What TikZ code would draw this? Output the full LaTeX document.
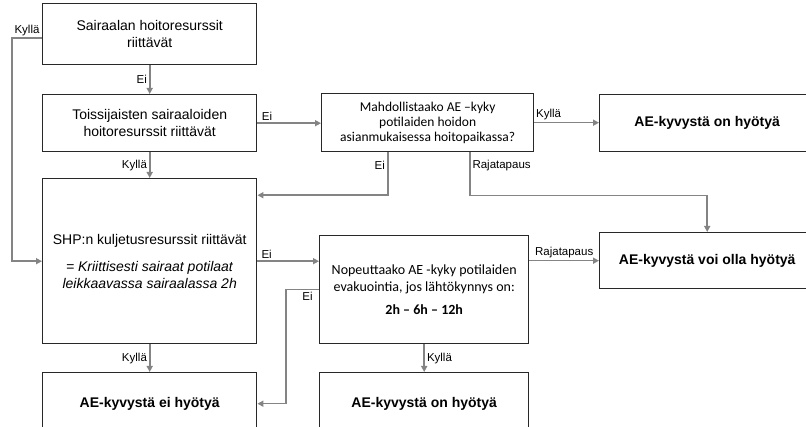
\documentclass[tikz,border=0pt]{standalone}
\usepackage{fontspec}
\setmainfont{Liberation Sans}
\newfontfamily\calibri{Carlito}
\usepackage{xcolor}
\usetikzlibrary{positioning, arrows.meta}

\definecolor{linegray}{RGB}{132,132,132}
\definecolor{boxline}{RGB}{40,40,40}

\begin{document}
\begin{tikzpicture}[
    x=1pt, y=-1pt,
    box/.style={
        rectangle,
        draw=boxline,
        line width=1.4pt,
        anchor=north west,
        minimum width=214pt,
        align=center,
        font=\fontsize{14}{17}\selectfont
    },
    arrow/.style={
        draw=linegray,
        line width=1.6pt,
        -{Triangle[length=6pt,width=6pt]}
    },
    lbl/.style={
        font=\fontsize{11.5}{13}\selectfont,
        inner sep=2pt
    }
]
\useasboundingbox (0,0) rectangle (806,427);
\clip (0,0) rectangle (806,427);

% left column
\node[box, minimum height=61pt] (sairaala) at (42,3)
    {Sairaalan hoitoresurssit\\riittävät};
\node[box, minimum height=57pt] (toissijaiset) at (42,94)
    {Toissijaisten sairaaloiden\\hoitoresurssit riittävät};
\node[box, minimum height=165pt] (kuljetus) at (42,178)
    {SHP:n kuljetusresurssit riittävät\\[10pt]
     \textit{= Kriittisesti sairaat potilaat}\\
     \textit{leikkaavassa sairaalassa 2h}};
\node[box, minimum height=62pt, font=\fontsize{14}{17}\selectfont\bfseries] (eihyoty) at (42,372)
    {AE-kyvystä ei hyötyä};

% middle column
\node[box, minimum width=212pt, minimum height=58pt,
      font=\calibri\fontsize{13.5}{15}\selectfont] (mahdollistaa) at (321,93)
    {Mahdollistaako AE –kyky\\potilaiden hoidon\\asianmukaisessa hoitopaikassa?};
\node[box, minimum width=209pt, minimum height=108pt,
      font=\calibri\fontsize{14}{17}\selectfont] (nopeuttaa) at (319,235)
    {Nopeuttaako AE -kyky potilaiden\\evakuointia, jos lähtökynnys on:\\[6pt]
     \textbf{2h – 6h – 12h}};
\node[box, minimum width=209pt, minimum height=62pt, font=\fontsize{14}{17}\selectfont\bfseries] (onhyotyala) at (319,372)
    {AE-kyvystä on hyötyä};

% right column
\node[box, minimum width=215pt, minimum height=57pt, font=\fontsize{14}{17}\selectfont\bfseries] (onhyoty) at (599,94)
    {AE-kyvystä on hyötyä};
\node[box, minimum width=215pt, minimum height=56pt, font=\fontsize{14}{17}\selectfont\bfseries] (voiolla) at (599,232)
    {AE-kyvystä voi olla hyötyä};

% connectors
\draw[arrow] (sairaala) -- node[lbl, left]{Ei} (toissijaiset);
\draw[arrow] ([yshift=-4pt]sairaala.west) -- node[lbl, above]{Kyllä} ++(-30,0) |- (kuljetus.west);
\draw[arrow] (toissijaiset) -- node[lbl, left]{Kyllä} (kuljetus);
\draw[arrow] (toissijaiset.east) -- node[lbl, above, pos=0.15]{Ei} (toissijaiset.east -| mahdollistaa.west);
\draw[arrow] (mahdollistaa.east) -- node[lbl, above, pos=0.22]{Kyllä} (mahdollistaa.east -| onhyoty.west);
\draw[arrow] ([xshift=-40pt]mahdollistaa.south) |- node[lbl, left, pos=0.15]{Ei} ([yshift=66pt]kuljetus.east);
\draw[arrow] ([xshift=42pt]mahdollistaa.south) -- node[lbl, right, pos=0.3]{Rajatapaus} ++(0,43) -| (voiolla.north);
\draw[arrow] (kuljetus.east) -- node[lbl, above, pos=0.15]{Ei} (kuljetus.east -| nopeuttaa.west);
\draw[arrow] (nopeuttaa.west) -- node[lbl, below, pos=0.35]{Ei} ++(-33,0) |- (eihyoty.east);
\draw[arrow] (voiolla.west -| nopeuttaa.east) -- node[lbl, above]{Rajatapaus} (voiolla.west);
\draw[arrow] (kuljetus) -- node[lbl, left]{Kyllä} (eihyoty);
\draw[arrow] (nopeuttaa) -- node[lbl, right]{Kyllä} (onhyotyala);

\end{tikzpicture}
\end{document}
